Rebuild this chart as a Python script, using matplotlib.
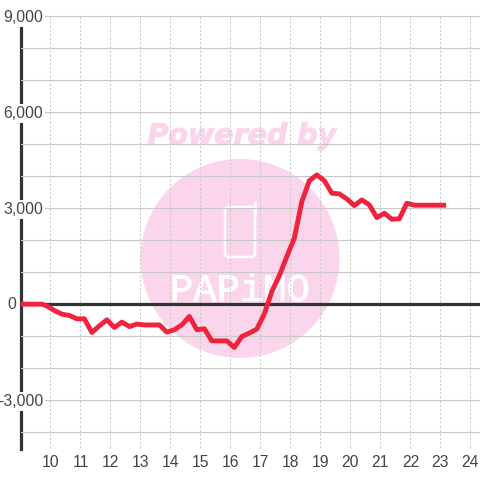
import matplotlib
matplotlib.use("Agg")
import matplotlib.pyplot as plt
import matplotlib.patches as mpatches
import matplotlib.lines as mlines
import matplotlib.patheffects as pe

# hours (x) and profit (y)
hours = [9.0, 9.72, 9.88, 10.13, 10.38, 10.63, 10.88, 11.13, 11.38, 11.63, 11.88,
         12.13, 12.38, 12.63, 12.88, 13.13, 13.38, 13.63, 13.88, 14.13, 14.38,
         14.63, 14.88, 15.13, 15.38, 15.63, 15.88, 16.13, 16.38, 16.63, 16.88,
         17.13, 17.38, 17.63, 17.88, 18.13, 18.38, 18.63, 18.88, 19.13, 19.38,
         19.63, 19.88, 20.13, 20.38, 20.63, 20.88, 21.13, 21.38, 21.63, 21.88,
         22.13, 22.38, 22.63, 22.88, 23.19]
profit = [0, 0, -60, -200, -313, -355, -459, -459, -887, -678, -490,
          -730, -563, -700, -625, -650, -650, -650, -875, -800, -650,
          -385, -800, -770, -1150, -1150, -1150, -1355, -1012, -906, -781,
          -303, 394, 894, 1488, 2062, 3206, 3862, 4040, 3862, 3468,
          3447, 3290, 3083, 3260, 3103, 2706, 2843, 2655, 2666, 3156,
          3093, 3093, 3093, 3093, 3093]

x_ticks = list(range(10, 25))
y_ticks = list(range(-4000, 10000, 1000))
y_labels = {9000: "9,000", 6000: "6,000", 3000: "3,000", -3000: "-3,000"}

plt.rcParams["font.family"] = "Liberation Sans"

fig = plt.figure(figsize=(4.8, 4.8), dpi=100)
ax = fig.add_axes([20.5 / 480, 31 / 480, 459.5 / 480, 449 / 480])
ax.set_xlim(9, 24.32)
ax.set_ylim(-4530, 9510)

# grid + axes
ax.set_axisbelow(True)
ax.set_xticks(x_ticks)
ax.set_yticks([v for v in y_ticks if v <= 9000])
ax.set_yticklabels([y_labels.get(v, "") for v in y_ticks if v <= 9000])
ax.tick_params(axis="x", length=0, pad=4, labelsize=11.3, labelcolor="#444444")
ax.tick_params(axis="y", length=0, pad=-16.5, labelsize=11.3, labelcolor="#444444")
for lab in ax.get_yticklabels():
    lab.set_bbox(dict(facecolor="white", edgecolor="none", pad=1.5))
ax.grid(axis="y", color="#c8c8c8", lw=0.8)
ax.vlines(x_ticks, -4500, 9000, color="#c8c8c8", lw=0.75, ls=(0, (2, 2)), zorder=0.3)
ax.text(-0.0098, 0, "0", transform=ax.get_yaxis_transform(), ha="right", va="center",
        fontsize=11.3, color="#444444")

for side in ["top", "right", "bottom"]:
    ax.spines[side].set_visible(False)
ax.spines["left"].set_linewidth(2.3)
ax.spines["left"].set_color("#333333")
ax.spines["left"].set_bounds(-4530, 9000)
ax.spines["left"].set_zorder(0.4)
ax.axhline(0, color="#333333", lw=2.3, zorder=2)

# watermark
trans = fig.transFigure
pink = "#fbd5ec"
ax.add_patch(mpatches.Circle((240 / 480, 1 - 258.5 / 480), 99.5 / 480, transform=trans,
                             facecolor=pink, edgecolor="none", zorder=0.1))
ax.add_patch(mpatches.FancyBboxPatch((225 / 480, 1 - 257 / 480), 30 / 480, 50 / 480,
                                     boxstyle="round,pad=0,rounding_size=0.008", transform=trans,
                                     facecolor="none", edgecolor="white", lw=1.8, zorder=0.2))
ax.add_line(mlines.Line2D([255 / 480, 255 / 480], [1 - 215 / 480, 1 - 202 / 480], transform=trans,
                          color="white", lw=1.8, solid_capstyle="round", zorder=0.2))
t1 = ax.text(242 / 480, 1 - 136 / 480, "Powered by", transform=trans, ha="center", va="center",
             fontsize=20.5, family="DejaVu Sans", weight="bold", style="italic", color=pink, zorder=0.2)
t1.set_path_effects([pe.withStroke(linewidth=0.8, foreground=pink)])
t2 = ax.text(240 / 480, 1 - 291 / 480, "PAPiMO", transform=trans, ha="center", va="center",
             fontsize=28, family="Liberation Mono", color="white", zorder=0.2)
t2.set_path_effects([pe.withStroke(linewidth=0.6, foreground="white")])

# profit line
ax.plot(hours, profit, color="#f0233c", lw=3.5, solid_joinstyle="round",
        solid_capstyle="butt", zorder=3, clip_on=False)

fig.savefig("out.png", dpi=100)
